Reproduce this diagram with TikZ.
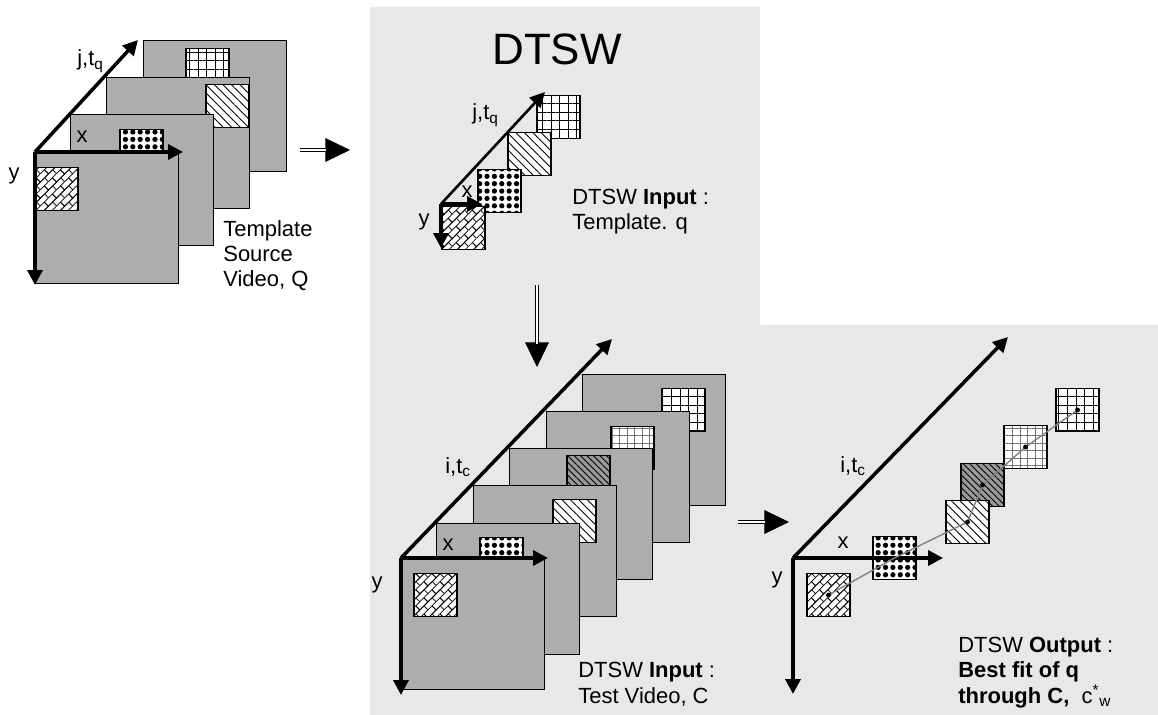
\documentclass[tikz,border=0pt]{standalone}
\usepackage{fontspec}
\setmainfont{Liberation Sans}
\usetikzlibrary{arrows.meta, patterns.meta}

\pgfdeclarepattern{
  name=slantbricks,
  type=uncolored,
  bottom left={\pgfpoint{-0.1pt}{-0.1pt}},
  top right={\pgfpoint{6.6pt}{6.6pt}},
  tile size={\pgfpoint{6.5pt}{6.5pt}},
  tile transformation={\pgftransformrotate{45}},
  code={
    \pgfsetlinewidth{0.6pt}
    \pgfpathmoveto{\pgfpoint{0pt}{0pt}}\pgfpathlineto{\pgfpoint{6.5pt}{0pt}}
    \pgfpathmoveto{\pgfpoint{0pt}{3.25pt}}\pgfpathlineto{\pgfpoint{6.5pt}{3.25pt}}
    \pgfpathmoveto{\pgfpoint{0pt}{0pt}}\pgfpathlineto{\pgfpoint{0pt}{3.25pt}}
    \pgfpathmoveto{\pgfpoint{3.25pt}{3.25pt}}\pgfpathlineto{\pgfpoint{3.25pt}{6.5pt}}
    \pgfusepath{stroke}
  }
}

\tikzset{
  panel/.style={fill=black!9},
  vidframe/.style={draw=black, line width=0.6pt, fill=black!32, anchor=north west,
    minimum width=81.6pt, minimum height=74.8pt, inner sep=0pt},
  patch/.style={draw=black, line width=0.7pt, preaction={fill=white},
    minimum size=24.5pt, inner sep=0pt},
  gridpatch/.style={patch, pattern={Hatch[angle=0, distance=4.9pt, line width=0.55pt]}},
  finegrid/.style={patch, pattern color=black!55, pattern={Hatch[angle=0, distance=4.3pt, line width=0.4pt]}},
  linepatch/.style={patch, pattern={Lines[angle=-45, distance=3.4pt, line width=0.5pt]}},
  darkpatch/.style={draw=black, line width=0.7pt, preaction={fill=black!40},
    minimum size=24.5pt, inner sep=0pt, pattern={Lines[angle=-45, distance=2.6pt, line width=0.5pt]}},
  dotpatch/.style={patch, pattern={Dots[distance=4.2pt, radius=1.5pt]}},
  brickpatch/.style={patch, pattern=slantbricks},
  axis/.style={line width=2pt, -{Triangle[length=8.5pt, width=8.5pt]}},
  shaft/.style={double, double distance=1.3pt, line width=0.7pt},
  bighead/.style={line width=0.4pt, -{Triangle[length=14pt, width=13.5pt]}},
  track/.style={draw=black!50, line width=0.8pt},
  lbl/.style={inner sep=0pt, font=\fontsize{12.5}{14.5}\selectfont},
}

\begin{document}
\begin{tikzpicture}[x=0.02cm, y=-0.02cm]
\useasboundingbox (0,0) rectangle (1158,715);
\fill[panel] (370,7) -- (760,7) -- (760,325) -- (1158,325) -- (1158,715) -- (370,715) -- cycle;

\node[vidframe] (q4) at (143,40) {};
\node[gridpatch] (q4p) at (207.5,70) {};
\node[vidframe] (q3) at (106,77) {};
\node[linepatch] (q3p) at (227.5,106) {};
\node[vidframe] (q2) at (70,114) {};
\node[dotpatch] (q2p) at (141.5,151) {};
\node[vidframe] (q1) at (35,152) {};
\node[brickpatch] (q1p) at (56.5,189) {};
\coordinate (qx) at (183,152);
\coordinate (qy) at (35,285);
\coordinate (qt) at (138,40);
\draw[axis] (q1.north west) -- (qx);
\draw[axis] (q1.north west) -- (qy);
\draw[axis] (q1.north west) -- (qt);
\node[lbl] (qxl) at (82,137) {x};
\node[lbl] (qyl) at (14,176) {y};
\node[lbl, anchor=base west] (qtl) at (77,66) {j,t\textsubscript{q}};
\node[lbl, anchor=base west, align=left] (srclbl) at (223,287) {Template\\Source\\Video, Q};

\coordinate (a1s) at (300,150);
\coordinate (a1m) at (326,150);
\coordinate (a1e) at (350,150);
\draw[bighead] (a1s) -- (a1e);
\draw[shaft] (a1s) -- (a1m);

\node[font=\fontsize{25}{30}\selectfont, inner sep=0pt] (title) at (557,49) {DTSW};
\node[gridpatch] (tg) at (558.5,117) {};
\node[linepatch] (tl) at (529.5,154) {};
\node[dotpatch] (td) at (499.5,191) {};
\node[brickpatch] (tb) at (463.5,228) {};
\coordinate (to) at (441,204);
\coordinate (tx) at (482,204);
\coordinate (ty) at (441,248);
\coordinate (tt) at (545,92);
\draw[axis, line width=1.5pt] (to) -- (tt);
\draw[axis] (to) -- (tx);
\draw[axis] (to) -- (ty);
\node[lbl] (txl) at (467,192) {x};
\node[lbl] (tyl) at (424,222) {y};
\node[lbl, anchor=base west] (ttl) at (472,120) {j,t\textsubscript{q}};
\node[lbl, anchor=base west, align=left] (tplin) at (572,230) {DTSW \textbf{Input} :\\Template. q};

\coordinate (d1s) at (537,285);
\coordinate (d1m) at (537,344);
\coordinate (d1e) at (537,367);
\draw[bighead] (d1s) -- (d1e);
\draw[shaft] (d1s) -- (d1m);

\node[vidframe] (c6) at (582,374) {};
\node[gridpatch] (c6p) at (683.5,410) {};
\node[vidframe] (c5) at (546,411) {};
\node[finegrid] (c5p) at (632.5,448) {};
\node[vidframe] (c4) at (509,448) {};
\node[darkpatch] (c4p) at (588.5,477) {};
\node[vidframe] (c3) at (473,485) {};
\node[linepatch] (c3p) at (574.5,521) {};
\node[vidframe] (c2) at (436,523) {};
\node[dotpatch] (c2p) at (501.5,559) {};
\node[vidframe] (c1) at (401,558) {};
\node[brickpatch] (c1p) at (435.5,595) {};
\coordinate (cx) at (548,558);
\coordinate (cy) at (401,695);
\coordinate (ct) at (612,339);
\draw[axis] (c1.north west) -- (cx);
\draw[axis] (c1.north west) -- (cy);
\draw[axis] (c1.north west) -- (ct);
\node[lbl] (cxl) at (448,545) {x};
\node[lbl] (cyl) at (377,585) {y};
\node[lbl, anchor=base west] (ctl) at (445,473) {i,t\textsubscript{c}};
\node[lbl, anchor=base west, align=left] (testin) at (578,703) {DTSW \textbf{Input} :\\Test Video, C};

\coordinate (a2s) at (738,522);
\coordinate (a2m) at (765,522);
\coordinate (a2e) at (789,522);
\draw[bighead] (a2s) -- (a2e);
\draw[shaft] (a2s) -- (a2m);

\node[gridpatch] (og) at (1077.5,410) {};
\node[finegrid] (of) at (1025.5,447) {};
\node[darkpatch] (ok) at (982.5,485) {};
\node[linepatch] (ol) at (967.5,522) {};
\node[dotpatch] (od) at (894.5,558) {};
\node[brickpatch] (ob) at (828.5,595) {};
\coordinate (oo) at (793,558);
\coordinate (ox) at (943,558);
\coordinate (oy) at (793,694);
\coordinate (ot) at (1008,337);
\draw[axis] (oo) -- (ot);
\draw[axis] (oo) -- (ox);
\draw[axis] (oo) -- (oy);
\draw[track] (ob.center) -- (od.center) -- (ol.center) -- (ok.center) -- (of.center) -- (og.center);
\foreach \p in {ob,ol,ok,of,og}
  \fill (\p.center) circle[radius=1.4pt];
\node[lbl] (oxl) at (843,543) {x};
\node[lbl] (oyl) at (777,580) {y};
\node[lbl, anchor=base west] (otl) at (840,472) {i,t\textsubscript{c}};
\node[lbl, anchor=base west, align=left] (outlbl) at (958,703) {DTSW \textbf{Output} :\\\textbf{Best fit of q}\\\textbf{through C,}\ \ c\textsuperscript{*}\textsubscript{w}};
\end{tikzpicture}
\end{document}
